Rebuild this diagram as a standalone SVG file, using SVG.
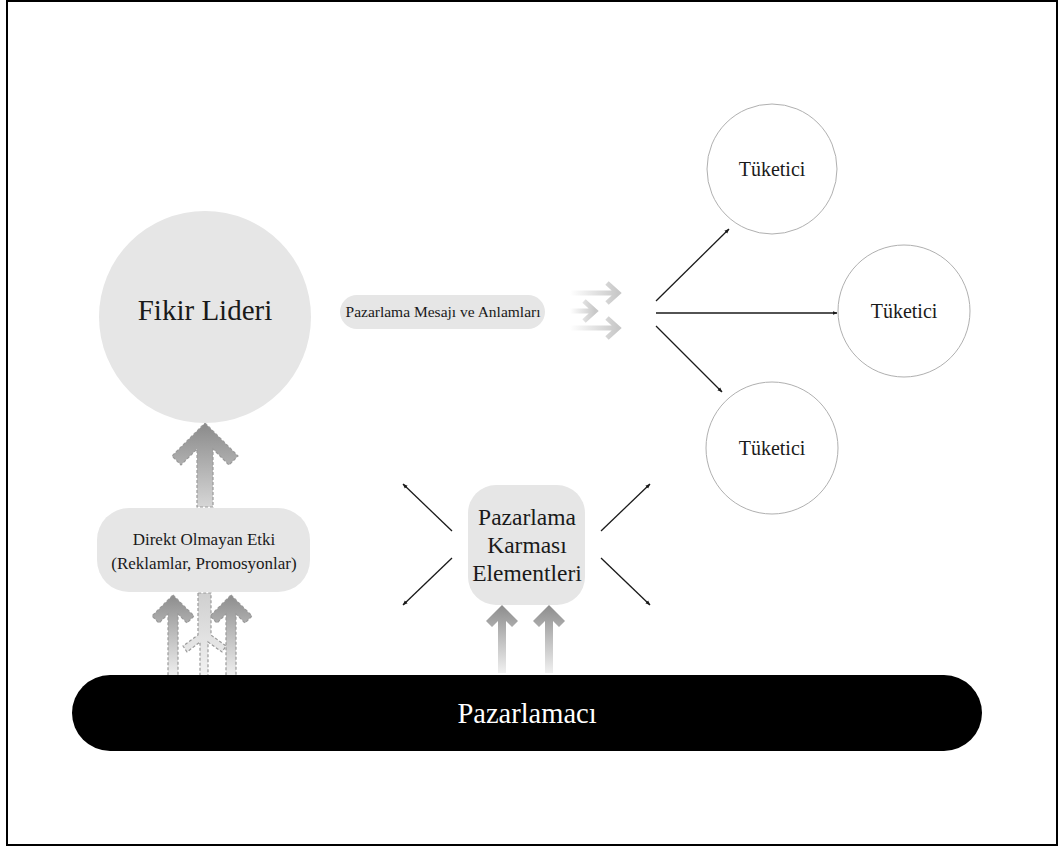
<svg xmlns="http://www.w3.org/2000/svg" width="1059" height="847" viewBox="0 0 1059 847">
<defs>
<style>
.lbl{font-family:"Liberation Serif","Times New Roman",serif;fill:#1a1a1a;text-anchor:middle}
.box{fill:#e6e6e6}
.cons{fill:#fff;stroke:#b0b0b0;stroke-width:1}
.thin{stroke:#1a1a1a;stroke-width:1.3;fill:none;marker-end:url(#ah)}
.dash{stroke:#9a9a9a;stroke-width:1.2;stroke-dasharray:3 2}
</style>
<marker id="ah" viewBox="0 0 10 10" refX="9" refY="5" markerWidth="5" markerHeight="5" orient="auto" markerUnits="userSpaceOnUse">
<path d="M0,1 L10,5 L0,9 z" fill="#1a1a1a"/>
</marker>
<linearGradient id="gUp" x1="0" y1="0" x2="0" y2="1">
<stop offset="0" stop-color="#8a8a8a"/>
<stop offset="1" stop-color="#d6d6d6"/>
</linearGradient>
<linearGradient id="gUp2" x1="0" y1="0" x2="0" y2="1">
<stop offset="0" stop-color="#8c8c8c"/>
<stop offset="1" stop-color="#f0f0f0"/>
</linearGradient>
<linearGradient id="gLight" x1="0" y1="0" x2="0" y2="1">
<stop offset="0" stop-color="#cfcfcf"/>
<stop offset="1" stop-color="#f2f2f2"/>
</linearGradient>
<linearGradient id="gFade" x1="0" y1="0" x2="1" y2="0">
<stop offset="0" stop-color="#ffffff"/>
<stop offset="1" stop-color="#c8c8c8"/>
</linearGradient>
</defs>
<rect x="7" y="1" width="1050" height="844" fill="#fff" stroke="#000" stroke-width="2"/>

<g id="connectors">
<!-- big arrow into Fikir Lideri -->
<path class="dash" fill="url(#gUp)" d="M205,423 L238,456 L229,465 L213,449 L213,507 L197,507 L197,449 L181,465 L172,456 Z"/>
<!-- arrows under Direkt box -->
<path class="dash" fill="url(#gUp2)" d="M173,595 L194,616 L187,623 L178,614 L178,676 L168,676 L168,614 L159,623 L152,616 Z"/>
<path class="dash" fill="url(#gUp2)" d="M231,595 L252,616 L245,623 L236,614 L236,676 L226,676 L226,614 L217,623 L210,616 Z"/>
<path class="dash" fill="url(#gLight)" d="M198,593 L198,635 L183,646 L187,652 L200,642 L200,676 L208,676 L208,642 L222,652 L226,646 L211,635 L211,593 Z"/>
<!-- arrows under Pazarlama Karmasi -->
<path fill="url(#gUp2)" d="M502,605 L518,621 L512,627 L506,621 L506,673 L498,673 L498,621 L492,627 L486,621 Z"/>
<path fill="url(#gUp2)" d="M549,605 L565,621 L559,627 L553,621 L553,673 L545,673 L545,621 L539,627 L533,621 Z"/>
<!-- faded message arrows -->
<g fill="none" stroke="url(#gFade)" stroke-width="5" stroke-linecap="butt">
<path d="M570,293 L617,293 M607,283 L618,293 L607,303"/>
<path d="M570,311 L594,311 M584,301 L595,311 L584,321"/>
<path d="M570,328 L617,328 M607,318 L618,328 L607,338"/>
</g>
<!-- to consumers -->
<line class="thin" x1="656" y1="301" x2="729" y2="229"/>
<line class="thin" x1="656" y1="313" x2="837" y2="313"/>
<line class="thin" x1="656" y1="326" x2="722" y2="392"/>
<!-- from Pazarlama Karmasi -->
<line class="thin" x1="452" y1="531" x2="403" y2="484"/>
<line class="thin" x1="452" y1="558" x2="403" y2="605"/>
<line class="thin" x1="601" y1="531" x2="650" y2="484"/>
<line class="thin" x1="601" y1="558" x2="650" y2="605"/>
</g>

<g id="fikir-lideri">
<circle cx="205" cy="317" r="106" fill="#e6e6e6"/>
<text class="lbl" x="205" y="320" font-size="29">Fikir Lideri</text>
</g>

<g id="mesaj">
<rect class="box" x="340" y="295" width="205" height="34" rx="17"/>
<text class="lbl" x="443" y="317" font-size="15.5">Pazarlama Mesajı ve Anlamları</text>
</g>

<g id="direkt">
<rect class="box" x="97" y="508" width="213" height="84" rx="32"/>
<text class="lbl" x="204" y="545" font-size="17">Direkt Olmayan Etki</text>
<text class="lbl" x="204" y="569" font-size="17">(Reklamlar, Promosyonlar)</text>
</g>

<g id="karma">
<rect class="box" x="468" y="485" width="117" height="120" rx="28"/>
<text class="lbl" x="527" y="525" font-size="23.5">Pazarlama</text>
<text class="lbl" x="527" y="553" font-size="23.5">Karması</text>
<text class="lbl" x="527" y="581" font-size="23.5">Elementleri</text>
</g>

<g id="tuketici-1">
<circle class="cons" cx="772" cy="169" r="65"/>
<text class="lbl" x="772" y="176" font-size="20">Tüketici</text>
</g>
<g id="tuketici-2">
<circle class="cons" cx="904" cy="311" r="66"/>
<text class="lbl" x="904" y="318" font-size="20">Tüketici</text>
</g>
<g id="tuketici-3">
<circle class="cons" cx="772" cy="448" r="66"/>
<text class="lbl" x="772" y="455" font-size="20">Tüketici</text>
</g>

<g id="pazarlamaci">
<rect x="72" y="675" width="910" height="76" rx="38" fill="#000"/>
<text class="lbl" x="527" y="723" font-size="28.5" style="fill:#fff">Pazarlamacı</text>
</g>
</svg>
